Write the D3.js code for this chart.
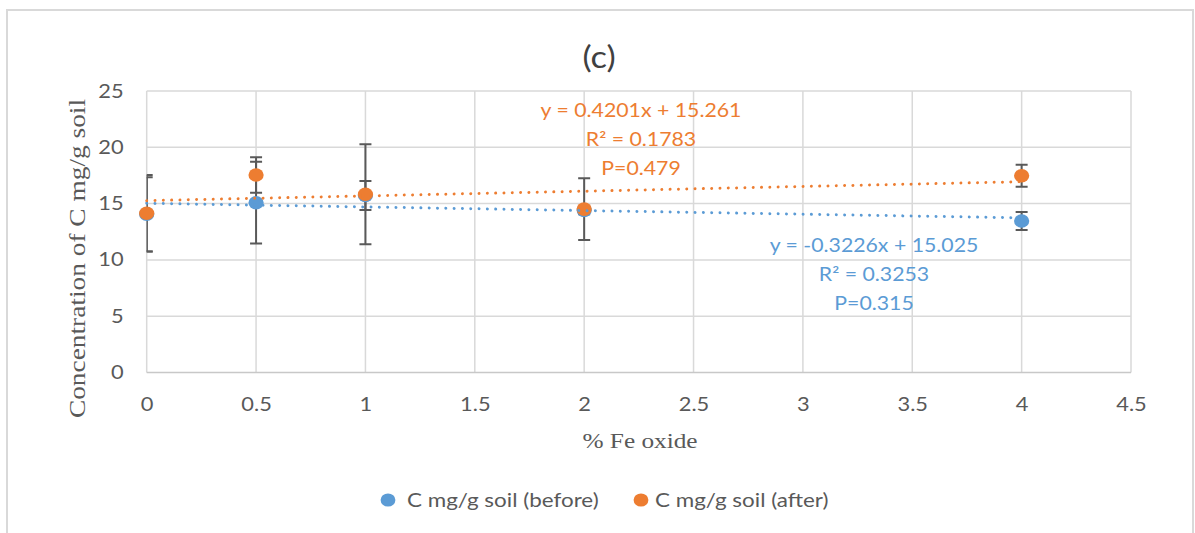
<!DOCTYPE html>
<html>
<head>
<meta charset="utf-8">
<script src="https://cdn.jsdelivr.net/npm/d3@7/dist/d3.min.js"></script>
<style>
  html, body { margin: 0; padding: 0; background: #ffffff; }
  svg { display: block; }
</style>
</head>
<body>
<svg id="chart" width="1195" height="533"></svg>
<script>
// Fe oxide dose (%) and measured carbon, before and after
const feOxide = [0, 0.5, 1, 2, 4];
const carbonBefore = [14.05, 15.08, 15.72, 14.40, 13.46];
const carbonAfter = [14.14, 17.54, 15.83, 14.51, 17.47];
const errBefore = [3.3, 3.63, 1.29, 0.35, 0.8];
const errAfter = [3.4, 1.57, 4.43, 2.74, 0.97];

// Linear fits: [slope, intercept]
const fitBefore = [-0.3226, 15.025];
const fitAfter = [0.4201, 15.261];

const xTicks = [0, 0.5, 1, 1.5, 2, 2.5, 3, 3.5, 4, 4.5];
const yTicks = [0, 5, 10, 15, 20, 25];

const seriesNames = ["C mg/g soil (before)", "C mg/g soil (after)"];
const fitLabelsBefore = ["y = -0.3226x + 15.025", "R² = 0.3253", "P=0.315"];
const fitLabelsAfter = ["y = 0.4201x + 15.261", "R² = 0.1783", "P=0.479"];

const blue = "#5b9bd5";
const orange = "#ed7d31";
const grid = "#d9d9d9";
const textGrey = "#595959";
const sans = "Lato, 'Liberation Sans', sans-serif";
const serif = "'Liberation Serif', 'DejaVu Serif', serif";
const SX = 1.15; // horizontal widening of the text faces

const svg = d3.select("#chart");

// place a text widened horizontally around its anchor point
function wideText(parent, px, py, sx) {
  return parent.append("text")
    .attr("transform", `translate(${px},${py}) scale(${sx},1)`);
}

// chart frame
svg.append("rect")
  .attr("x", 7).attr("y", 10)
  .attr("width", 1186).attr("height", 540)
  .attr("fill", "none").attr("stroke", grid).attr("stroke-width", 2);

const x = d3.scaleLinear().domain([0, 4.5]).range([146.7, 1131]);
const y = d3.scaleLinear().domain([0, 25]).range([372.5, 91]);

svg.append("defs").append("clipPath").attr("id", "plotClip")
  .append("rect")
  .attr("x", x(0)).attr("y", y(25) - 10)
  .attr("width", x(4.5) - x(0)).attr("height", y(0) - y(25) + 20);

// horizontal gridlines
svg.append("g").selectAll("line").data(yTicks.filter(d => d > 0)).join("line")
  .attr("x1", x(0)).attr("x2", x(4.5))
  .attr("y1", d => y(d)).attr("y2", d => y(d))
  .attr("stroke", grid).attr("stroke-width", 1.5);

// vertical gridlines
svg.append("g").selectAll("line").data(xTicks).join("line")
  .attr("x1", d => x(d)).attr("x2", d => x(d))
  .attr("y1", y(25)).attr("y2", y(0))
  .attr("stroke", grid).attr("stroke-width", 1.5);

// x baseline
svg.append("line")
  .attr("x1", x(0)).attr("x2", x(4.5))
  .attr("y1", y(0)).attr("y2", y(0))
  .attr("stroke", "#c8c8c8").attr("stroke-width", 1.5);

// axes (labels only, lines handled above)
const xAxis = d3.axisBottom(x).tickValues(xTicks).tickSize(0).tickPadding(25)
  .tickFormat(d => String(d));
const gx = svg.append("g").attr("transform", `translate(0,${y(0)})`).call(xAxis);
gx.select(".domain").remove();
gx.selectAll("text")
  .attr("font-family", sans).attr("font-size", 19).attr("fill", textGrey)
  .attr("transform", `scale(${SX},1)`);

const yAxis = d3.axisLeft(y).tickValues(yTicks).tickSize(0).tickPadding(23);
const gy = svg.append("g").attr("transform", `translate(${x(0)},0)`).call(yAxis);
gy.select(".domain").remove();
gy.selectAll("text")
  .attr("font-family", sans).attr("font-size", 19).attr("fill", textGrey)
  .attr("x", -23 / SX)
  .attr("transform", `scale(${SX},1)`);

// axis titles
wideText(svg, 640, 448, SX)
  .attr("text-anchor", "middle")
  .attr("font-family", serif).attr("font-size", 22).attr("fill", textGrey)
  .text("% Fe oxide");

svg.append("text")
  .attr("transform", `translate(85,${(100 + 417) / 2}) rotate(-90) scale(1.19,1)`)
  .attr("text-anchor", "middle")
  .attr("font-family", serif).attr("font-size", 23).attr("fill", textGrey)
  .text("Concentration of C mg/g soil");

// chart title
wideText(svg, 599, 68, SX)
  .attr("text-anchor", "middle")
  .attr("font-family", sans).attr("font-size", 30).attr("fill", "#404040")
  .text("(c)");

const series = [
  { name: seriesNames[0], vals: carbonBefore, err: errBefore, fit: fitBefore, color: blue },
  { name: seriesNames[1], vals: carbonAfter, err: errAfter, fit: fitAfter, color: orange }
];

// error bars
const eb = svg.append("g").attr("clip-path", "url(#plotClip)")
  .attr("stroke", "#595959").attr("stroke-width", 2);
series.forEach(s => {
  feOxide.forEach((fx, i) => {
    const cx = x(fx);
    const lo = y(s.vals[i] - s.err[i]);
    const hi = y(s.vals[i] + s.err[i]);
    eb.append("line").attr("x1", cx).attr("x2", cx).attr("y1", lo).attr("y2", hi);
    eb.append("line").attr("x1", cx - 6).attr("x2", cx + 6).attr("y1", lo).attr("y2", lo);
    eb.append("line").attr("x1", cx - 6).attr("x2", cx + 6).attr("y1", hi).attr("y2", hi);
  });
});

// markers
series.forEach(s => {
  svg.append("g").selectAll("ellipse").data(feOxide).join("ellipse")
    .attr("cx", d => x(d))
    .attr("cy", (d, i) => y(s.vals[i]))
    .attr("rx", 7.6).attr("ry", 6.8)
    .attr("fill", s.color);
});

// dotted linear trend lines over the data range
series.forEach(s => {
  const x0 = d3.min(feOxide), x1 = d3.max(feOxide);
  svg.append("line")
    .attr("x1", x(x0)).attr("y1", y(s.fit[0] * x0 + s.fit[1]))
    .attr("x2", x(x1)).attr("y2", y(s.fit[0] * x1 + s.fit[1]))
    .attr("stroke", s.color).attr("stroke-width", 3)
    .attr("stroke-linecap", "round")
    .attr("stroke-dasharray", "0.01 8.3");
});

// fit annotations
function fitLabel(lines, cx, cy, color) {
  const t = wideText(svg, cx, cy, SX)
    .attr("text-anchor", "middle")
    .attr("font-family", sans).attr("font-size", 18.5).attr("fill", color);
  lines.forEach((ln, i) => {
    t.append("tspan").attr("x", 0).attr("y", i * 29).text(ln);
  });
}
fitLabel(fitLabelsAfter, 641, 117, orange);
fitLabel(fitLabelsBefore, 874, 252, blue);

// legend
const legend = svg.append("g");
const legendItems = [
  { cx: 388, tx: 407, s: series[0] },
  { cx: 641, tx: 655, s: series[1] }
];
legendItems.forEach(it => {
  legend.append("ellipse").attr("cx", it.cx).attr("cy", 500)
    .attr("rx", 7.4).attr("ry", 6.6).attr("fill", it.s.color);
  wideText(legend, it.tx, 507, SX)
    .attr("font-family", sans).attr("font-size", 19.5).attr("fill", textGrey)
    .text(it.s.name);
});
</script>
</body>
</html>
